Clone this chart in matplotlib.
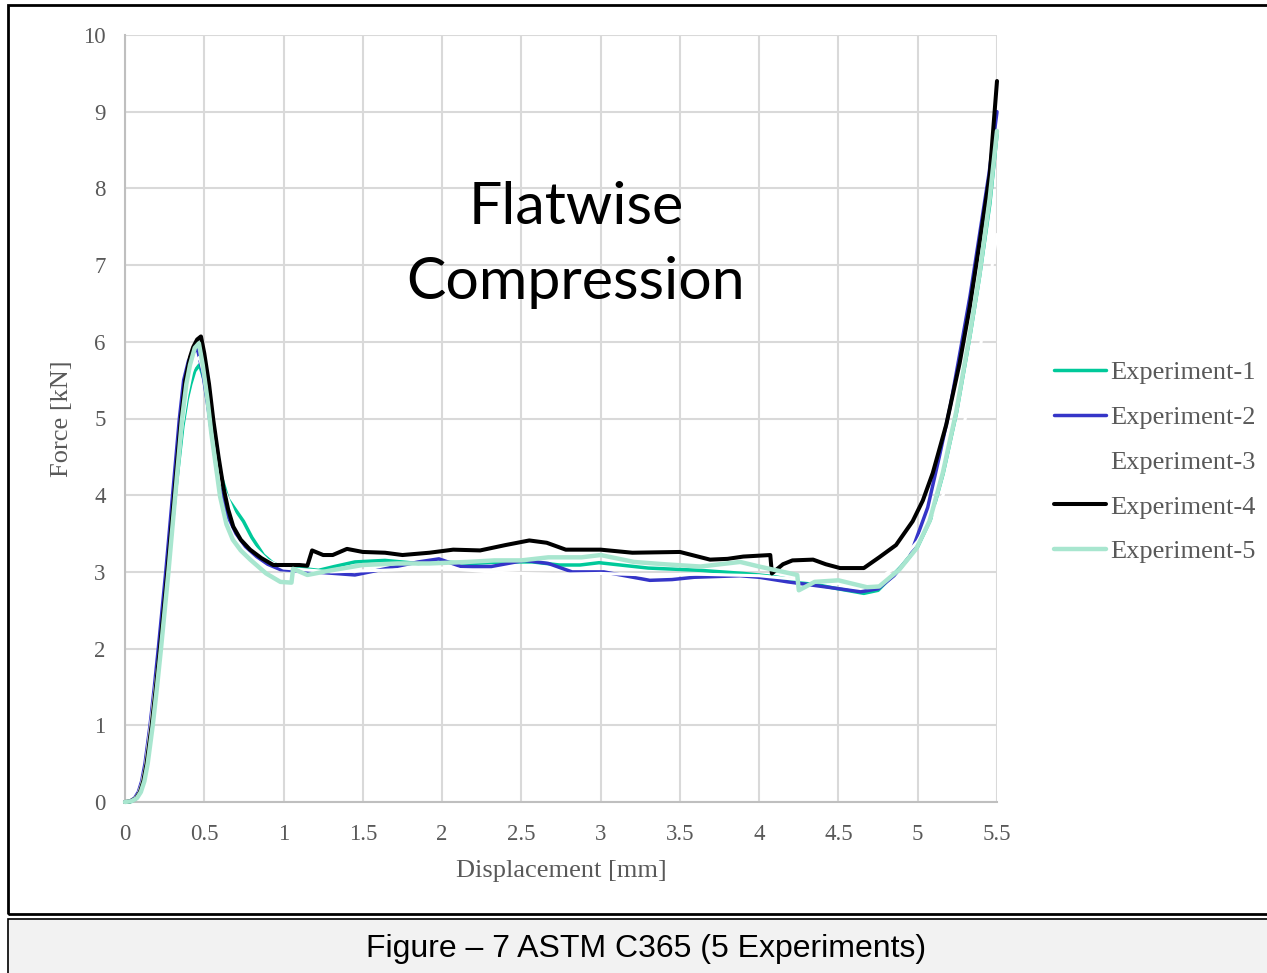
import matplotlib
matplotlib.use("Agg")
import matplotlib.pyplot as plt
from matplotlib.patches import Rectangle

W, H = 1267, 973

series_names = ["Experiment-1", "Experiment-2", "Experiment-3", "Experiment-4", "Experiment-5"]
series_colors = ["#00c99a", "#3535c8", "#ffffff", "#000000", "#a8e6cf"]
series_widths = [2.5, 2.5, 2.2, 2.9, 3.2]

exp1_x = [0, 0.03, 0.06, 0.084, 0.105, 0.127, 0.148, 0.18, 0.207, 0.232, 0.279, 0.322,
          0.365, 0.392, 0.415, 0.44, 0.47,
          0.5, 0.53, 0.56, 0.6, 0.65, 0.7, 0.747, 0.8, 0.873, 0.93, 0.98, 1.1, 1.22, 1.32,
          1.45, 1.64, 1.85, 2.0, 2.19, 2.38, 2.57, 2.74, 2.87, 2.99, 3.3, 3.63, 3.9, 4.09,
          4.3, 4.47, 4.66, 4.75, 4.84, 4.9, 5.0, 5.08, 5.16, 5.245, 5.33, 5.39, 5.455, 5.5]
exp1_y = [0, 0.0, 0.03, 0.09, 0.2, 0.4, 0.7, 1.3, 1.8, 2.3, 3.2, 4.1,
          4.9, 5.25, 5.45, 5.62, 5.7,
          5.5, 5.1, 4.7, 4.3, 3.95, 3.8, 3.66, 3.45, 3.22, 3.12, 3.07, 3.05, 3.02, 3.07,
          3.13, 3.15, 3.11, 3.13, 3.11, 3.13, 3.13, 3.09, 3.09, 3.12, 3.05, 3.02, 2.98, 2.94,
          2.86, 2.79, 2.72, 2.76, 2.95, 3.08, 3.33, 3.68, 4.28, 5.08, 6.08, 6.85, 7.8, 8.7]

exp2_x = [0, 0.03, 0.06, 0.084, 0.105, 0.126, 0.158, 0.185, 0.21, 0.257, 0.30, 0.343,
          0.37, 0.40, 0.43, 0.458,
          0.49, 0.52, 0.55, 0.58, 0.61, 0.65, 0.7, 0.76, 0.83, 0.9, 0.98, 1.19, 1.45, 1.64,
          1.85, 1.98, 2.12, 2.31, 2.52, 2.67, 2.82, 3.02, 3.31, 3.45, 3.59, 3.88, 4.0, 4.18,
          4.47, 4.64, 4.75, 4.85, 4.95, 5.063, 5.137, 5.207, 5.27, 5.33, 5.39, 5.45, 5.5]
exp2_y = [0, 0.01, 0.05, 0.13, 0.27, 0.5, 1.0, 1.5, 2.0, 3.0, 4.0, 5.0,
          5.5, 5.75, 5.87, 5.9,
          5.6, 5.2, 4.75, 4.3, 4.0, 3.72, 3.5, 3.33, 3.2, 3.1, 3.03, 3.0, 2.96, 3.04,
          3.13, 3.17, 3.07, 3.07, 3.15, 3.11, 3.0, 3.0, 2.89, 2.9, 2.93, 2.95, 2.93, 2.87,
          2.79, 2.74, 2.78, 2.95, 3.2, 3.84, 4.51, 5.18, 5.9, 6.6, 7.4, 8.2, 9.0]

exp3_x = [0, 0.03, 0.06, 0.084, 0.105, 0.127, 0.158, 0.19, 0.22, 0.27, 0.315, 0.36,
          0.39, 0.42, 0.445, 0.47,
          0.5, 0.55, 0.6, 0.7, 0.8, 0.9, 1.0, 1.3, 1.6, 2.0, 2.3, 2.5, 2.7, 3.0, 3.3, 3.6,
          4.0, 4.5, 4.75, 4.85, 5.0, 5.16, 5.3, 5.4, 5.47, 5.5]
exp3_y = [0, 0.01, 0.04, 0.11, 0.24, 0.45, 0.95, 1.5, 2.0, 3.0, 4.0, 4.9,
          5.3, 5.6, 5.75, 5.8,
          5.55, 4.8, 4.2, 3.7, 3.35, 3.15, 3.05, 3.0, 3.02, 3.05, 3.0, 2.98, 2.97, 2.98, 2.96, 2.97,
          2.95, 2.85, 2.9, 3.05, 3.4, 4.0, 5.0, 6.0, 7.0, 7.4]

exp4_x = [0, 0.035, 0.07, 0.094, 0.115, 0.136, 0.168, 0.195, 0.22, 0.267, 0.31, 0.353,
          0.38, 0.41, 0.43, 0.455, 0.479,
          0.5, 0.53, 0.557, 0.59, 0.62, 0.65, 0.683, 0.73, 0.789, 0.86, 0.935, 1.0, 1.1, 1.15,
          1.18, 1.25, 1.31, 1.4, 1.5, 1.64, 1.75, 1.92, 2.07, 2.24, 2.4, 2.55, 2.66, 2.78,
          3.0, 3.2, 3.5, 3.69, 3.8, 3.9, 4.07, 4.08, 4.15, 4.21, 4.34, 4.42, 4.51, 4.66,
          4.757, 4.863, 4.968, 5.032, 5.095, 5.18, 5.264, 5.327, 5.39, 5.454, 5.5]
exp4_y = [0, 0.01, 0.05, 0.13, 0.27, 0.5, 1.0, 1.5, 2.0, 3.0, 4.0, 5.0,
          5.5, 5.8, 5.93, 6.03, 6.07,
          5.85, 5.45, 4.98, 4.5, 4.11, 3.82, 3.59, 3.42, 3.29, 3.18, 3.09, 3.09, 3.09, 3.08,
          3.28, 3.22, 3.22, 3.3, 3.26, 3.25, 3.22, 3.25, 3.29, 3.28, 3.35, 3.41, 3.38, 3.29,
          3.29, 3.25, 3.26, 3.16, 3.17, 3.2, 3.22, 2.98, 3.1, 3.15, 3.16, 3.1, 3.05, 3.05,
          3.19, 3.35, 3.66, 3.93, 4.29, 4.92, 5.72, 6.44, 7.29, 8.18, 9.4]

exp5_x = [0, 0.04, 0.075, 0.1, 0.122, 0.143, 0.175, 0.202, 0.227, 0.274, 0.317, 0.36,
          0.387, 0.41, 0.44, 0.466,
          0.49, 0.52, 0.545, 0.568, 0.6, 0.64, 0.68, 0.73, 0.79, 0.89, 0.98, 1.05, 1.06,
          1.15, 1.3, 1.5, 1.72, 1.92, 2.16, 2.33, 2.5, 2.67, 2.88, 3.0, 3.21, 3.4, 3.63,
          3.88, 4.0, 4.24, 4.25, 4.35, 4.5, 4.6, 4.68, 4.757, 4.884, 4.99, 5.074, 5.158,
          5.243, 5.327, 5.39, 5.454, 5.5]
exp5_y = [0, 0.01, 0.05, 0.13, 0.27, 0.5, 1.0, 1.5, 2.0, 3.0, 4.0, 5.0,
          5.45, 5.7, 5.92, 5.98,
          5.7, 5.25, 4.8, 4.46, 3.98, 3.62, 3.42, 3.28, 3.16, 2.98, 2.87, 2.86, 3.04,
          2.96, 3.02, 3.09, 3.11, 3.11, 3.13, 3.15, 3.15, 3.19, 3.19, 3.22, 3.13, 3.1, 3.07,
          3.13, 3.07, 2.96, 2.76, 2.87, 2.89, 2.84, 2.8, 2.81, 3.03, 3.3, 3.66, 4.29,
          5.09, 6.08, 6.89, 7.87, 8.75]

series_x = [exp1_x, exp2_x, exp3_x, exp4_x, exp5_x]
series_y = [exp1_y, exp2_y, exp3_y, exp4_y, exp5_y]

x_ticks = [0, 0.5, 1, 1.5, 2, 2.5, 3, 3.5, 4, 4.5, 5, 5.5]
x_tick_labels = ["0", "0.5", "1", "1.5", "2", "2.5", "3", "3.5", "4", "4.5", "5", "5.5"]
y_ticks = list(range(0, 11))

title_text = "Flatwise\nCompression"
caption_text = "Figure – 7 ASTM C365 (5 Experiments)"
x_label = "Displacement [mm]"
y_label = "Force [kN]"

fig = plt.figure(figsize=(W / 100, H / 100), dpi=100)
fig.patch.set_facecolor("white")

ax = fig.add_axes([125 / W, 1 - 802 / H, (997 - 125) / W, (802 - 35) / H])
ax.set_xlim(0, 5.5)
ax.set_ylim(0, 10)
ax.set_xticks(x_ticks)
ax.set_xticklabels(x_tick_labels)
ax.set_yticks(y_ticks)
ax.grid(True, color="#d9d9d9", linewidth=1.5, zorder=0)
ax.set_axisbelow(True)
for s in ["top", "right"]:
    ax.spines[s].set_visible(False)
for s in ["left", "bottom"]:
    ax.spines[s].set_color("#bfbfbf")
    ax.spines[s].set_linewidth(1.5)
ax.tick_params(length=0, labelsize=16.5, labelcolor="#595959")
ax.tick_params(axis="y", pad=14)
ax.tick_params(axis="x", pad=15.5)
for lab in ax.get_xticklabels() + ax.get_yticklabels():
    lab.set_family("Liberation Serif")

ax.set_xlabel(x_label, fontsize=19, color="#595959", family="Liberation Serif", labelpad=11)
ax.set_ylabel(y_label, fontsize=19, color="#595959", family="Liberation Serif", labelpad=7)

for i, (xs, ys) in enumerate(zip(series_x, series_y)):
    ax.plot(xs, ys, color=series_colors[i], lw=series_widths[i], label=series_names[i],
            zorder=3 + i, solid_joinstyle="round", solid_capstyle="round", clip_on=False)

ax.text(2.845, 7.26, title_text, ha="center", va="center", fontsize=42.5, family="Lato",
        linespacing=1.5, zorder=10)

leg = fig.legend(loc="center left", bbox_to_anchor=(1041 / W, 1 - 462 / H), frameon=False,
                 prop={"family": "Liberation Serif", "size": 19}, handlelength=1.97,
                 handletextpad=0.16, labelspacing=0.81, borderpad=0)
for t in leg.get_texts():
    t.set_color("#595959")

# outer frame
fig.patches.append(Rectangle((8 / W, 1 - 914 / H), 1.2, (914 - 5) / H, transform=fig.transFigure,
                             fill=False, edgecolor="black", linewidth=2, zorder=1))
fig.patches.append(Rectangle((8 / W, -0.05), 1.2, 0.05 + (973 - 919) / H, transform=fig.transFigure,
                             facecolor="#f2f2f2", edgecolor="black", linewidth=1.2, zorder=1))
fig.text(646 / W, 1 - 949 / H, caption_text, ha="center", va="center", fontsize=23,
         family="Liberation Sans", color="black")

fig.savefig("out.png", dpi=100)
